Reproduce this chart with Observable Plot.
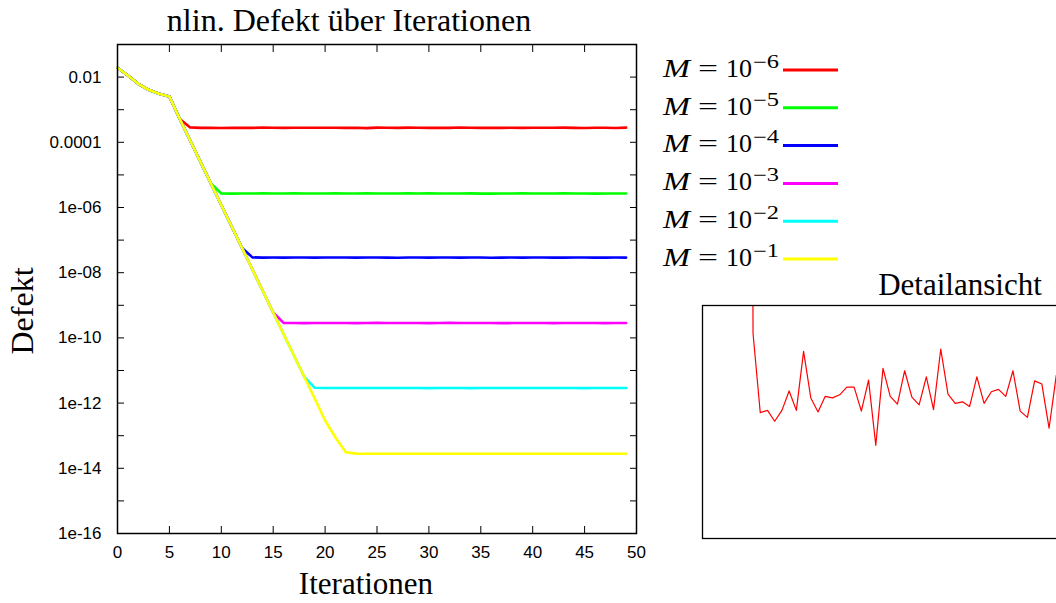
<!DOCTYPE html>
<html><head><meta charset="utf-8">
<script src="https://cdn.jsdelivr.net/npm/d3@7"></script>
<script src="https://cdn.jsdelivr.net/npm/@observablehq/plot@0.6"></script>
<style>
html,body{margin:0;padding:0;background:#fff;overflow:hidden;width:1056px;height:603px;}
#root{position:relative;width:1056px;height:603px;overflow:hidden;}
#root > svg, #root > div{position:absolute;}
</style></head><body><div id="root"></div>
<script>
// ---- data ----
const iterations = [0,1,2,3,4,5,6,7,8,9,10,11,12,13,14,15,16,17,18,19,20,21,22,23,24,25,26,27,28,29,30,31,32,33,34,35,36,37,38,39,40,41,42,43,44,45,46,47,48,49];
// shared descent (iterations 0..22)
const commonDescent = [1.93e-2,1.12e-2,6.22e-3,4.07e-3,3.07e-3,2.54e-3,5.19e-4,1.14e-4,2.49e-5,5.45e-6,1.19e-6,2.61e-7,5.73e-8,1.25e-8,2.75e-9,6.01e-10,1.32e-10,2.88e-11,6.32e-12,1.38e-12,2.92e-13,8.80e-14,3.12e-14];
// plateau values (continue after the descent, up to iteration 49)
const plateauM6 = [2.864e-4,2.762e-4,2.765e-4,2.751e-4,2.765e-4,2.790e-4,2.765e-4,2.841e-4,2.781e-4,2.763e-4,
  2.783e-4,2.781e-4,2.785e-4,2.795e-4,2.795e-4,2.764e-4,2.804e-4,2.720e-4,2.819e-4,2.783e-4,
  2.773e-4,2.816e-4,2.782e-4,2.772e-4,2.808e-4,2.766e-4,2.844e-4,2.786e-4,2.774e-4,2.776e-4,
  2.770e-4,2.808e-4,2.774e-4,2.789e-4,2.792e-4,2.783e-4,2.816e-4,2.764e-4,2.756e-4,2.803e-4,
  2.799e-4,2.742e-4,2.810e-4];
const plateauM5 = [2.70e-6,2.66e-6,2.68e-6,2.69e-6,2.71e-6,2.68e-6,2.70e-6,2.72e-6,2.69e-6,2.68e-6,
  2.70e-6,2.71e-6,2.69e-6,2.70e-6,2.73e-6,2.69e-6,2.68e-6,2.70e-6,2.71e-6,2.69e-6,
  2.72e-6,2.70e-6,2.68e-6,2.69e-6,2.71e-6,2.67e-6,2.66e-6,2.69e-6,2.70e-6,2.71e-6,
  2.69e-6,2.68e-6,2.70e-6,2.72e-6,2.69e-6,2.68e-6,2.67e-6,2.69e-6,2.68e-6,2.70e-6];
const plateauM4 = [2.95e-8,2.90e-8,2.92e-8,2.91e-8,2.93e-8,2.92e-8,2.90e-8,2.93e-8,2.94e-8,2.92e-8,
  2.91e-8,2.93e-8,2.92e-8,2.90e-8,2.89e-8,2.92e-8,2.93e-8,2.91e-8,2.92e-8,2.94e-8,
  2.90e-8,2.92e-8,2.93e-8,2.88e-8,2.90e-8,2.92e-8,2.91e-8,2.93e-8,2.92e-8,2.90e-8,
  2.91e-8,2.93e-8,2.92e-8,2.90e-8,2.91e-8,2.92e-8,2.91e-8];
const plateauM3 = [2.88e-10,2.85e-10,2.84e-10,2.86e-10,2.85e-10,2.87e-10,2.86e-10,2.84e-10,2.86e-10,2.88e-10,
  2.85e-10,2.86e-10,2.87e-10,2.85e-10,2.84e-10,2.86e-10,2.89e-10,2.86e-10,2.85e-10,2.87e-10,
  2.86e-10,2.84e-10,2.85e-10,2.87e-10,2.86e-10,2.85e-10,2.84e-10,2.86e-10,2.87e-10,2.85e-10,
  2.86e-10,2.84e-10,2.85e-10,2.86e-10];
const plateauM2 = [2.95e-12,2.92e-12,2.90e-12,2.91e-12,2.89e-12,2.90e-12,2.92e-12,2.90e-12,2.91e-12,2.89e-12,
  2.90e-12,2.88e-12,2.92e-12,2.91e-12,2.90e-12,2.89e-12,2.91e-12,2.92e-12,2.90e-12,2.91e-12,
  2.89e-12,2.90e-12,2.91e-12,2.90e-12,2.92e-12,2.90e-12,2.89e-12,2.91e-12,2.90e-12,2.91e-12,
  2.90e-12];
const plateauM1 = [2.82e-14,2.79e-14,2.78e-14,2.79e-14,2.80e-14,2.78e-14,2.79e-14,2.78e-14,2.79e-14,2.80e-14,
  2.79e-14,2.78e-14,2.79e-14,2.78e-14,2.79e-14,2.80e-14,2.79e-14,2.78e-14,2.79e-14,2.78e-14,
  2.79e-14,2.79e-14,2.78e-14,2.80e-14,2.79e-14,2.78e-14,2.79e-14];
const seriesNames = ["M=1e-6","M=1e-5","M=1e-4","M=1e-3","M=1e-2","M=1e-1"];
const seriesExponents = ["\u22126","\u22125","\u22124","\u22123","\u22122","\u22121"];
const seriesColors = ["#ff0000","#00ff00","#0000ff","#ff00ff","#00ffff","#ffff00"];
const plateaus = [plateauM6,plateauM5,plateauM4,plateauM3,plateauM2,plateauM1];
const xTicks = [0,5,10,15,20,25,30,35,40,45,50];
const yLabelTicks = [1e-2,1e-4,1e-6,1e-8,1e-10,1e-12,1e-14,1e-16];
const yTickLabels = ["0.01","0.0001","1e-06","1e-08","1e-10","1e-12","1e-14","1e-16"];
const yMinorTicks = [1e-1,1e-2,1e-3,1e-4,1e-5,1e-6,1e-7,1e-8,1e-9,1e-10,1e-11,1e-12,1e-13,1e-14,1e-15,1e-16];
const insetDomain = [2.6e-4, 2.9e-4];

// ---- build table ----
const rows = [];
plateaus.forEach((p, s) => {
  const values = commonDescent.slice(0, iterations.length - p.length).concat(p);
  values.forEach((v, i) => rows.push({it: iterations[i], value: v, m: seriesNames[s]}));
});
const redRows = rows.filter(r => r.m === seriesNames[0]);

const root = document.getElementById("root");
const sans = "'Liberation Sans', Arial, sans-serif";
const serif = "'Liberation Serif', 'Times New Roman', serif";

const main = Plot.plot({
  width: 660, height: 603,
  marginLeft: 117, marginRight: 24, marginTop: 44, marginBottom: 70,
  x: {domain: [0, 50]},
  y: {type: "log", domain: [1e-16, 1e-1]},
  color: {domain: seriesNames, range: seriesColors},
  style: {background: "transparent", fontFamily: sans, fontSize: "17px", color: "#000"},
  marks: [
    Plot.axisY({ticks: yLabelTicks, tickSize: 0, tickPadding: 16, tickFormat: d => yTickLabels[yLabelTicks.indexOf(d)], label: null, fontSize: 17}),
    Plot.axisY({anchor: "left", ticks: yMinorTicks, tickSize: 7, dx: 7, tickFormat: () => "", label: null}),
    Plot.axisY({anchor: "right", ticks: yMinorTicks, tickSize: 7, dx: -7, tickFormat: () => "", label: null}),
    Plot.axisX({ticks: xTicks, tickSize: 0, tickPadding: 12, tickFormat: d => String(d), label: null, fontSize: 17}),
    Plot.axisX({anchor: "bottom", ticks: xTicks, tickSize: 7, dy: -7, tickFormat: () => "", label: null}),
    Plot.axisX({anchor: "top", ticks: xTicks, tickSize: 7, dy: 7, tickFormat: () => "", label: null}),
    Plot.line(rows, {x: "it", y: "value", z: "m", stroke: "m", strokeWidth: 2.6, strokeLinejoin: "round"}),
    Plot.frame({stroke: "#000", strokeWidth: 1.5})
  ]
});
main.style.left = "0px"; main.style.top = "0px";
root.appendChild(main);

const inset = Plot.plot({
  width: 380, height: 240,
  marginLeft: 1, marginRight: 18, marginTop: 1, marginBottom: 6,
  x: {domain: [0, 50], axis: null},
  y: {domain: insetDomain, axis: null},
  style: {background: "transparent"},
  marks: [
    Plot.line(redRows, {x: "it", y: "value", stroke: seriesColors[0], strokeWidth: 1.2, clip: true}),
    Plot.frame({stroke: "#000", strokeWidth: 1.3})
  ]
});
inset.style.left = "701px"; inset.style.top = "304px";
root.appendChild(inset);

// ---- text overlay: titles, labels, legend ----
const ov = d3.select(root).append("svg")
  .attr("width", 1056).attr("height", 603)
  .style("left", "0px").style("top", "0px").style("pointer-events", "none");

ov.append("text").attr("x", 349).attr("y", 31).attr("text-anchor", "middle")
  .attr("font-family", serif).attr("font-size", 32).text("nlin. Defekt über Iterationen");
ov.append("text").attr("x", 366).attr("y", 594).attr("text-anchor", "middle")
  .attr("font-family", serif).attr("font-size", 31).text("Iterationen");
ov.append("text").attr("transform", "translate(33,311) rotate(-90)").attr("text-anchor", "middle")
  .attr("font-family", serif).attr("font-size", 32).text("Defekt");
ov.append("text").attr("x", 960).attr("y", 295).attr("text-anchor", "middle")
  .attr("font-family", serif).attr("font-size", 31).text("Detailansicht");

seriesNames.forEach((name, i) => {
  const base = 76.7 + i * 37.8;
  ov.append("text").attr("x", 663).attr("y", base)
    .attr("font-family", serif).attr("font-size", 25).attr("font-style", "italic")
    .attr("textLength", 27).attr("lengthAdjust", "spacingAndGlyphs").text("M");
  ov.append("text").attr("x", 698).attr("y", base)
    .attr("font-family", serif).attr("font-size", 25)
    .attr("textLength", 20).attr("lengthAdjust", "spacingAndGlyphs").text("=");
  ov.append("text").attr("x", 726).attr("y", base)
    .attr("font-family", serif).attr("font-size", 25)
    .attr("textLength", 26).attr("lengthAdjust", "spacingAndGlyphs").text("10");
  ov.append("text").attr("x", 753).attr("y", base - 9)
    .attr("font-family", serif).attr("font-size", 18)
    .attr("textLength", 26).attr("lengthAdjust", "spacingAndGlyphs").text(seriesExponents[i]);
  ov.append("line").attr("x1", 783).attr("x2", 838)
    .attr("y1", base - 6.7).attr("y2", base - 6.7)
    .attr("stroke", seriesColors[i]).attr("stroke-width", 3);
});
</script></body></html>
